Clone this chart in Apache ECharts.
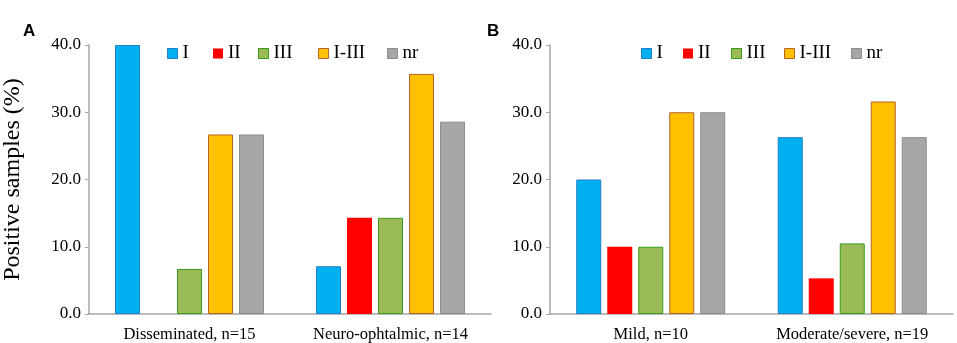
<!DOCTYPE html>
<html>
<head>
<meta charset="utf-8">
<script src="https://cdn.jsdelivr.net/npm/echarts@6/dist/echarts.min.js"></script>
<style>
  html, body { margin: 0; padding: 0; background: #fff; }
  #chart { width: 957px; height: 343px; }
</style>
</head>
<body>
<div id="chart"></div>
<script>
// data
const typeNames = ["I", "II", "III", "I-III", "nr"];
const catsA = ["Disseminated, n=15", "Neuro-ophtalmic, n=14"];
const catsB = ["Mild, n=10", "Moderate/severe, n=19"];
// per type: [group 1, group 2]
const valsA = {
  "I": [40.0, 7.1],
  "II": [0, 14.3],
  "III": [6.7, 14.3],
  "I-III": [26.7, 35.7],
  "nr": [26.7, 28.6]
};
const valsB = {
  "I": [20.0, 26.3],
  "II": [10.0, 5.3],
  "III": [10.0, 10.5],
  "I-III": [30.0, 31.6],
  "nr": [30.0, 26.3]
};
const yTicks = [0, 10, 20, 30, 40];

const colors = {
  "I": { fill: "#00B0F0", border: "#1F7FC8", bw: 1 },
  "II": { fill: "#FF0000", border: "#FF0000", bw: 0 },
  "III": { fill: "#9BBB59", border: "#3A9A1C", bw: 1 },
  "I-III": { fill: "#FFC000", border: "#B5652A", bw: 1 },
  "nr": { fill: "#A6A6A6", border: "#8C8C8C", bw: 1 }
};

// where each legend entry sits (x of its square)
const legendLeftA = [162, 208, 253, 313, 382];
const legendLeftB = [636, 678, 726, 779, 846];

const serif = "'Liberation Serif', 'Times New Roman', serif";
const axisGray = "#A6A6A6";

function makeSeries(vals, idx) {
  return typeNames.map(name => ({
    name,
    type: "bar",
    xAxisIndex: idx,
    yAxisIndex: idx,
    data: vals[name],
    barWidth: 25,
    barGap: "24%",
    itemStyle: {
      color: colors[name].fill,
      borderColor: colors[name].border,
      borderWidth: colors[name].bw
    },
    emphasis: { disabled: true }
  }));
}

function makeLegends(lefts) {
  return typeNames.map((name, i) => ({
    data: [name],
    left: lefts[i],
    top: 39,
    icon: "rect",
    itemWidth: 10,
    itemHeight: 10,
    itemStyle: { borderWidth: colors[name].bw === 0 ? 0 : 1 },
    textStyle: { color: "#000", fontFamily: serif, fontSize: 19 },
    selectedMode: false
  }));
}

function xAxis(cats, idx) {
  return {
    type: "category",
    gridIndex: idx,
    data: cats,
    axisLine: { lineStyle: { color: axisGray, width: 1.5 } },
    axisTick: { show: false },
    axisLabel: { color: "#000", fontFamily: serif, fontSize: 16.5, margin: 12, interval: 0 }
  };
}

function yAxis(idx, withName) {
  const ax = {
    type: "value",
    gridIndex: idx,
    min: yTicks[0],
    max: yTicks[yTicks.length - 1],
    interval: 10,
    splitLine: { show: false },
    axisLine: { show: true, lineStyle: { color: axisGray, width: 1.5 } },
    axisTick: { show: true, length: 4, lineStyle: { color: axisGray } },
    axisLabel: {
      color: "#000", fontFamily: serif, fontSize: 17, margin: 8,
      formatter: v => v.toFixed(1)
    }
  };
  if (withName) {
    ax.name = "Positive samples (%)";
    ax.nameLocation = "middle";
    ax.nameGap = 64;
    ax.nameTextStyle = { color: "#000", fontFamily: serif, fontSize: 24 };
  }
  return ax;
}

const chart = echarts.init(document.getElementById("chart"));
chart.setOption({
  animation: false,
  backgroundColor: "#fff",
  grid: [
    { left: 88, top: 45, width: 403, height: 269 },
    { left: 550, top: 45, width: 403, height: 269 }
  ],
  legend: [...makeLegends(legendLeftA), ...makeLegends(legendLeftB)],
  graphic: [
    { type: "text", left: 23, top: 23, style: { text: "A", font: "bold 17px 'Liberation Sans', Arial, sans-serif", fill: "#000" } },
    { type: "text", left: 487, top: 23, style: { text: "B", font: "bold 17px 'Liberation Sans', Arial, sans-serif", fill: "#000" } }
  ],
  xAxis: [xAxis(catsA, 0), xAxis(catsB, 1)],
  yAxis: [yAxis(0, true), yAxis(1, false)],
  series: [...makeSeries(valsA, 0), ...makeSeries(valsB, 1)]
});
</script>
</body>
</html>
